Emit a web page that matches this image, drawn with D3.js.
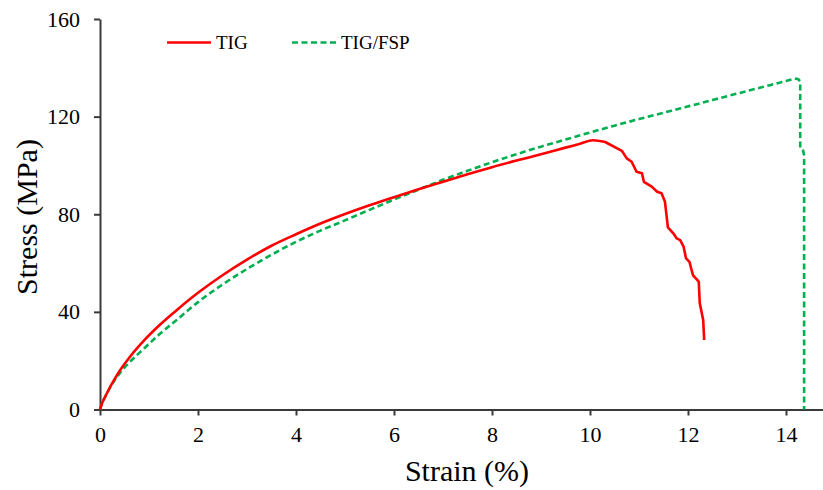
<!DOCTYPE html>
<html>
<head>
<meta charset="utf-8">
<script src="https://cdn.jsdelivr.net/npm/d3@7"></script>
<style>
  body { margin: 0; background: #fff; }
  svg { display: block; font-family: "Liberation Serif", "Times New Roman", serif; }
</style>
</head>
<body>
<script>
// tensile curves, strain in %, stress in MPa
const tigStrain = [0, 0.05, 0.1, 0.2, 0.3, 0.4, 0.6, 0.9, 1.2, 1.6, 2, 2.5, 3, 3.5, 4, 4.5, 5, 5.5, 6, 6.5, 7, 7.5, 8, 8.5, 9, 9.5, 9.8, 10.06, 10.31,
  10.65, 10.75, 10.85, 10.95, 11.06, 11.1, 11.26, 11.37, 11.46, 11.53, 11.59, 11.7, 11.77, 11.84, 11.91, 11.96, 12.03, 12.1, 12.22, 12.24, 12.31, 12.33];
const tigStress = [0, 3, 5, 9, 12.5, 15.8, 21.3, 28.3, 34.3, 41.3, 47.8, 55, 61.4, 67.1, 71.8, 76.2, 80.1, 83.7, 87, 90.2, 93.3, 96.4, 99.3, 102, 104.6, 107.3, 108.9, 110.3, 109.6,
  106, 102.9, 101.5, 97.4, 96.8, 93.3, 91.3, 89.2, 88.6, 85.1, 74.6, 72.2, 70.1, 69.4, 66.7, 61.9, 60.5, 55.1, 52.4, 43.5, 36.7, 28.5];
const tigPeakIndex = 28;

const fspStrain = [0, 0.05, 0.1, 0.2, 0.3, 0.4, 0.6, 0.9, 1.2, 1.6, 2, 2.5, 3, 3.5, 4, 4.5, 5, 5.5, 6, 6.5, 7, 7.5, 8, 8.5, 9, 9.5, 10, 10.5, 11, 11.5, 12, 12.5, 13, 13.5, 14, 14.18,
  14.25, 14.29, 14.29, 14.35, 14.37, 14.37];
const fspStress = [0, 3, 5, 8.8, 12, 14.8, 19.3, 25, 30.6, 37.3, 44, 51.2, 57.6, 63.4, 68.7, 73.3, 77.5, 81.8, 86, 90.1, 94.1, 97.8, 101.3, 104.6, 107.7, 110.6, 113.5, 116.3, 119, 121.6, 124.2, 126.8, 129.4, 132, 134.6, 135.6,
  135.3, 134.5, 107, 106, 104, 0];
const fspPeakIndex = 35;

const xTicks = [0, 2, 4, 6, 8, 10, 12, 14];
const yTicks = [0, 40, 80, 120, 160];
const seriesNames = ["TIG", "TIG/FSP"];

const width = 823, height = 490;

const xScale = d3.scaleLinear().domain([0, 14.75]).range([100, 100 + 49 * 14.75]);
const yScale = d3.scaleLinear().domain([0, 160]).range([409.5, 19]);

const svg = d3.select("body").append("svg").attr("width", width).attr("height", height);

// axes
const xAxis = d3.axisBottom(xScale).tickValues(xTicks).tickSize(6).tickSizeOuter(0).tickPadding(11);
const yAxis = d3.axisLeft(yScale).tickValues(yTicks).tickSize(6).tickSizeOuter(0).tickPadding(14);

svg.append("g").attr("transform", "translate(0," + yScale(0) + ")").call(xAxis);
svg.append("g").attr("transform", "translate(" + xScale(0) + ",0)").call(yAxis);

svg.selectAll(".domain").style("stroke", "#3a3a3a").style("stroke-width", "2px");
svg.selectAll(".tick line").style("stroke", "#3a3a3a").style("stroke-width", "2px");
svg.selectAll(".tick text").style("font-size", "22px").style("fill", "#000").style("font-family", "Liberation Serif");

// smooth rise up to the peak, then the raw (jagged) fracture tail
const smooth = d3.line().curve(d3.curveMonotoneX)
  .x(d => xScale(d[0]))
  .y(d => yScale(d[1]));
const straight = d3.line()
  .x(d => xScale(d[0]))
  .y(d => yScale(d[1]));

function curvePath(strain, stress, peak) {
  const pts = d3.zip(strain, stress);
  return smooth(pts.slice(0, peak + 1)) + straight(pts.slice(peak)).replace(/^M/, "L");
}

svg.append("path")
  .attr("d", curvePath(fspStrain, fspStress, fspPeakIndex))
  .style("fill", "none")
  .style("stroke", "#00B050")
  .style("stroke-width", "2.6px")
  .style("stroke-dasharray", "6,3.5");

svg.append("path")
  .attr("d", curvePath(tigStrain, tigStress, tigPeakIndex))
  .style("fill", "none")
  .style("stroke", "#FF0000")
  .style("stroke-width", "2.6px")
  .style("stroke-linejoin", "round");

// axis titles
svg.append("text")
  .attr("x", 467)
  .attr("y", 481)
  .attr("text-anchor", "middle")
  .style("font-size", "30px")
  .text("Strain (%)");

svg.append("text")
  .attr("transform", "translate(37,217) rotate(-90)")
  .attr("text-anchor", "middle")
  .style("font-size", "30px")
  .text("Stress (MPa)");

// legend
const legend = svg.append("g");
const legendX = [167, 292];
const legendColor = ["#FF0000", "#00B050"];
const legendDash = [null, "6,3.5"];

seriesNames.forEach((name, i) => {
  legend.append("line")
    .attr("x1", legendX[i])
    .attr("x2", legendX[i] + 44)
    .attr("y1", 42.5)
    .attr("y2", 42.5)
    .style("stroke", legendColor[i])
    .style("stroke-width", "2.6px")
    .style("stroke-dasharray", legendDash[i]);
  legend.append("text")
    .attr("x", legendX[i] + 49)
    .attr("y", 49)
    .style("font-size", "19px")
    .text(name);
});
</script>
</body>
</html>
